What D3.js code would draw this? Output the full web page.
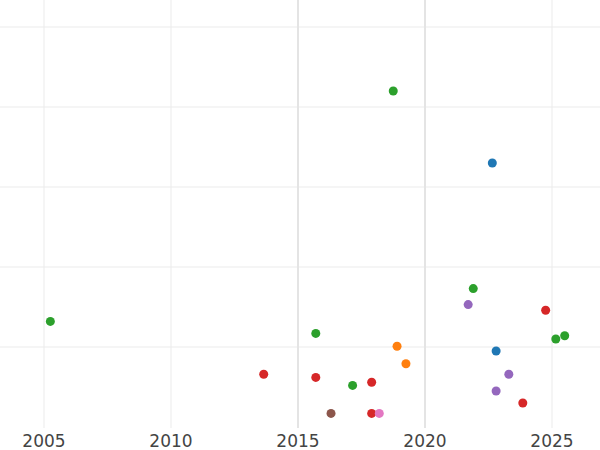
<!DOCTYPE html>
<html><head><meta charset="utf-8">
<script src="https://cdn.jsdelivr.net/npm/d3@7"></script>
<style>body{margin:0;background:#fff}</style></head>
<body><svg></svg>
<script>
// point data: year, value, colour group
var years  = [2018.75,2022.65,2021.9,2021.7,2024.75,2005.25,2015.7,2025.15,2025.5,2018.9,2022.8,2019.25,2013.65,2015.7,2023.3,2017.9,2017.15,2022.8,2023.85,2016.3,2017.9,2018.2];
var values = [4.2,3.3,1.73,1.53,1.46,1.32,1.17,1.1,1.14,1.01,0.95,0.79,0.66,0.62,0.66,0.56,0.52,0.45,0.3,0.17,0.17,0.17];
var groups = [2,0,2,4,3,2,2,2,2,1,0,1,3,3,4,3,2,4,3,5,3,6];
var xTicks = [2005,2010,2015,2020,2025];
var yGrid = [0,1,2,3,4,5];

var width = 600, height = 450;
var svg = d3.select("svg").attr("width", width).attr("height", height);
var x = d3.scaleLinear().domain([2005,2025]).range([44,552]);
var y = d3.scaleLinear().domain([0,5]).range([427,27]);
var color = d3.scaleOrdinal(d3.schemeCategory10).domain(d3.range(10));

svg.selectAll(".hg").data(yGrid.slice(1)).enter().append("line")
	.attr("x1",0).attr("x2",width)
	.attr("y1",d=>y(d)).attr("y2",d=>y(d))
	.style("stroke","#ebebeb");
svg.selectAll(".vg").data(xTicks).enter().append("line")
	.attr("x1",d=>x(d)).attr("x2",d=>x(d))
	.attr("y1",0).attr("y2",428)
	.style("stroke",d=>(d==2015||d==2020)?"#e4e4e4":"#ebebeb")
	.style("stroke-width",d=>(d==2015||d==2020)?2:1);
svg.selectAll(".xl").data(xTicks).enter().append("text")
	.attr("x",d=>x(d)).attr("y",447)
	.attr("text-anchor","middle")
	.style("font-family","DejaVu Sans").style("font-size","17px").style("fill","#444")
	.text(d=>d);

svg.selectAll(".pt").data(years).enter().append("circle")
	.attr("cx",d=>x(d)).attr("cy",(d,i)=>y(values[i]))
	.attr("r",4.5)
	.style("fill",(d,i)=>color(groups[i]));
</script></body></html>
